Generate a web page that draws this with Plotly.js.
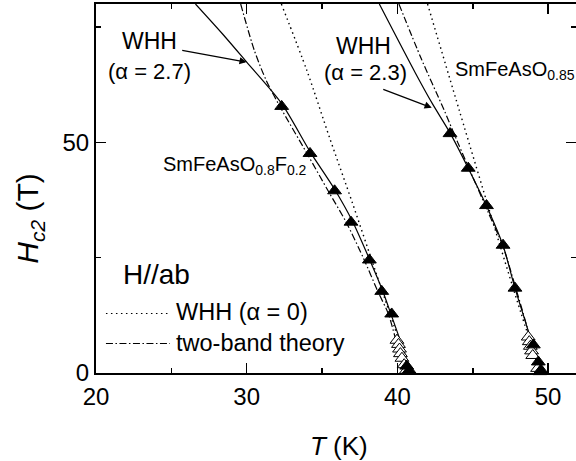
<!DOCTYPE html>
<html><head><meta charset="utf-8">
<script src="https://cdn.plot.ly/plotly-3.0.1.min.js"></script>
<style>body{margin:0;padding:0;background:#fff}#chart{width:576px;height:461px}</style>
</head><body><div id="chart"></div>
<script>
// Sample SmFeAsO0.8F0.2 (H//ab)
const s1FilledT = [32.32, 34.20, 35.83, 36.92, 38.14, 38.96, 39.62, 40.62, 40.78];
const s1FilledH = [57.8, 47.6, 39.5, 32.7, 24.5, 17.7, 12.8, 1.5, 0.6];
const s1OpenT = [39.97, 40.07, 40.14, 40.20, 40.30, 40.45, 40.60];
const s1OpenH = [7.1, 6.2, 5.2, 4.2, 3.2, 1.8, 0.6];
const s1WhhT = [26.6, 28.4, 30.0, 32.3, 34.2, 35.8, 37.0, 38.1, 39.0, 39.6, 40.3, 40.9];
const s1WhhH = [80, 73.5, 67.4, 58.5, 48.0, 40.0, 33.0, 25.0, 18.0, 12.5, 6.0, 0];
const s1TwoBandT = [29.6, 30.5, 31.3, 32.2, 34.0, 35.4, 36.6, 37.8, 38.7, 39.4, 40.0, 40.6];
const s1TwoBandH = [80, 70, 63.4, 57.8, 47.6, 39.5, 32.7, 24.5, 17.7, 12.8, 6.0, 0];
const s1Whh0T = [32.3, 34.0, 35.5, 37.0, 38.5, 39.8, 40.8];
const s1Whh0H = [80, 65.5, 51.0, 37.0, 22.5, 10.0, 0];

// Sample SmFeAsO0.85F0.15 (H//ab)
const s2FilledT = [43.49, 44.70, 45.91, 47.01, 47.80, 49.02, 49.35, 49.53];
const s2FilledH = [51.9, 44.4, 36.3, 27.7, 18.4, 6.1, 2.4, 0.6];
const s2OpenT = [48.68, 48.75, 48.82, 48.90, 48.98, 49.30, 49.45];
const s2OpenH = [7.8, 6.8, 5.8, 4.8, 3.8, 1.0, 0.3];
const s2WhhT = [38.8, 41.2, 42.3, 43.5, 44.7, 45.9, 47.0, 47.8, 48.6, 49.5];
const s2WhhH = [80, 65.0, 58.5, 52.0, 44.4, 36.3, 27.7, 18.4, 10.0, 0];
const s2TwoBandT = [40.1, 41.6, 43.1, 44.0, 45.0, 46.0, 47.0, 47.8, 48.6, 49.4];
const s2TwoBandH = [80, 68, 57, 50, 42.5, 35, 27.5, 19, 10, 0];
const s2Whh0T = [42.0, 44.1, 46.7, 48.2, 49.5];
const s2Whh0H = [80, 57.0, 28.8, 13.0, 0];

const xTicks = [20, 30, 40, 50];
const yTicks = [0, 50];

const FONT = 'Liberation Sans, Arial, Helvetica, sans-serif';
const DOT = '1.5px,3.5px';
const DASHDOT = '7px,2.5px,1.5px,2.5px';

function line(x, y, dash, w) {
  return {x, y, type: 'scatter', mode: 'lines',
    line: {color: '#000', width: w || 1.2, dash: dash, shape: 'spline', smoothing: 0.8},
    hoverinfo: 'skip', showlegend: false};
}
function pts(x, y, fill) {
  return {x, y, type: 'scatter', mode: 'markers',
    marker: {symbol: 'triangle-up', size: 12, color: fill, line: {color: '#000', width: 1}},
    showlegend: false, cliponaxis: false};
}

const traces = [
  line(s1Whh0T, s1Whh0H, DOT, 1.4),
  line(s2Whh0T, s2Whh0H, DOT, 1.4),
  line(s1TwoBandT, s1TwoBandH, DASHDOT),
  line(s2TwoBandT, s2TwoBandH, DASHDOT),
  line(s1WhhT, s1WhhH, 'solid'),
  line(s2WhhT, s2WhhH, 'solid'),
  pts(s1OpenT, s1OpenH, '#fff'),
  pts(s2OpenT, s2OpenH, '#fff'),
  pts(s1FilledT, s1FilledH, '#000'),
  pts(s2FilledT, s2FilledH, '#000')
];

function txt(x, y, text, size, xanchor, extra) {
  return Object.assign({x, y, xref: 'x', yref: 'y', text, showarrow: false,
    xanchor: xanchor || 'center', yanchor: 'middle', font: {family: FONT, size: size, color: '#000'}}, extra || {});
}

const annotations = [
  txt(23.52, 71.9, 'WHH', 23),
  txt(23.58, 65.4, '(α = 2.7)', 22),
  txt(37.72, 71.0, 'WHH', 23),
  txt(37.85, 65.2, '(α = 2.3)', 22),
  txt(43.72, 65.6, 'SmFeAsO<sub>0.85</sub>', 20, 'left'),
  txt(24.30, 45.0, 'SmFeAsO<sub>0.8</sub>F<sub>0.2</sub>', 20, 'left'),
  txt(21.66, 21.4, 'H//ab', 28, 'left'),
  txt(25.17, 13.2, 'WHH (α = 0)', 23.5, 'left'),
  txt(25.17, 6.5, 'two-band theory', 23.5, 'left'),
  {x: 30.0, y: 67.4, xref: 'x', yref: 'y', ax: -66, ay: -12, text: '', showarrow: true,
   arrowhead: 2, arrowsize: 1.2, arrowwidth: 1.2, arrowcolor: '#000'},
  {x: 42.28, y: 57.5, xref: 'x', yref: 'y', ax: -50, ay: -19, text: '', showarrow: true,
   arrowhead: 2, arrowsize: 1.2, arrowwidth: 1.2, arrowcolor: '#000'},
  {x: 0.506, y: -0.198, xref: 'paper', yref: 'paper', text: '<i>T</i> (K)', showarrow: false,
   xanchor: 'center', yanchor: 'middle', font: {family: FONT, size: 26, color: '#000'}},
  {x: -0.1375, y: 0.418, xref: 'paper', yref: 'paper', text: '<i>H</i><sub><i>c2</i></sub> (T)', showarrow: false,
   textangle: -90, xanchor: 'center', yanchor: 'middle', font: {family: FONT, size: 30, color: '#000'}}
];

const shapes = [
  {type: 'line', xref: 'x', yref: 'y', x0: 20.66, x1: 24.91, y0: 12.9, y1: 12.9, line: {color: '#000', width: 1.2, dash: DOT}},
  {type: 'line', xref: 'x', yref: 'y', x0: 20.66, x1: 24.91, y0: 6.4, y1: 6.4, line: {color: '#000', width: 1.2, dash: DASHDOT}}
];

const axisCommon = {
  showgrid: false, zeroline: false, showline: true, linecolor: '#000', linewidth: 2,
  mirror: 'ticks', ticks: 'inside', ticklen: 10, tickwidth: 1.5, tickcolor: '#000',
  tickfont: {family: FONT, size: 24, color: '#000'}
};

const layout = {
  width: 576, height: 461,
  margin: {l: 96, r: 0, t: 4, b: 88, pad: 0},
  paper_bgcolor: '#fff', plot_bgcolor: '#fff',
  showlegend: false,
  xaxis: Object.assign({}, axisCommon, {range: [20, 51.85], tickmode: 'array', tickvals: xTicks,
    ticktext: xTicks.map(String), ticklabelstandoff: 1,
    minor: {dtick: 5, tick0: 0, ticks: 'inside', ticklen: 5, tickwidth: 1.5, tickcolor: '#000', showgrid: false}}),
  yaxis: Object.assign({}, axisCommon, {range: [0, 80], tickmode: 'array', tickvals: yTicks,
    ticktext: yTicks.map(String), ticklabelstandoff: 0,
    minor: {dtick: 25, tick0: 0, ticks: 'inside', ticklen: 5, tickwidth: 1.5, tickcolor: '#000', showgrid: false}}),
  annotations, shapes
};

Plotly.newPlot('chart', traces, layout, {staticPlot: true, displayModeBar: false});
</script></body></html>
